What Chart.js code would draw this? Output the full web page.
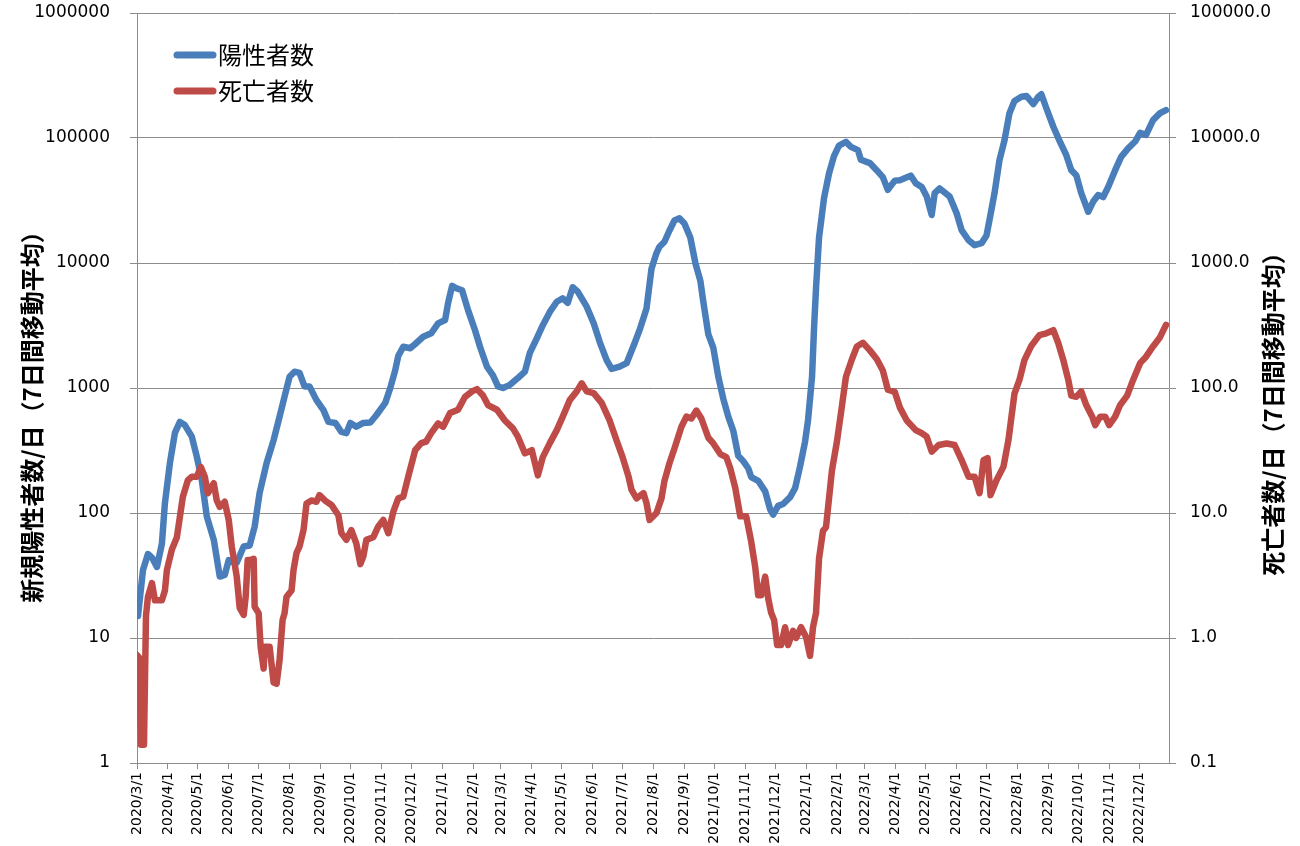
<!DOCTYPE html>
<html lang="ja">
<head>
<meta charset="utf-8">
<title>新規陽性者数・死亡者数（7日間移動平均）</title>
<script src="https://cdn.jsdelivr.net/npm/chart.js@4/dist/chart.umd.min.js"></script>
<style>
  html, body { margin: 0; padding: 0; background: #fff; }
  #wrap { position: relative; width: 1300px; height: 846px; }
</style>
</head>
<body>
<div id="wrap"><canvas id="chart"></canvas></div>
<script>
// ─────────────────────────────────────────────
// データ（日数 = 2020/3/1 からの経過日数）
// ─────────────────────────────────────────────
const tickLabels = [
  '2020/3/1', '2020/4/1', '2020/5/1', '2020/6/1', '2020/7/1', '2020/8/1', '2020/9/1', '2020/10/1',
  '2020/11/1', '2020/12/1', '2021/1/1', '2021/2/1', '2021/3/1', '2021/4/1', '2021/5/1', '2021/6/1',
  '2021/7/1', '2021/8/1', '2021/9/1', '2021/10/1', '2021/11/1', '2021/12/1', '2022/1/1', '2022/2/1',
  '2022/3/1', '2022/4/1', '2022/5/1', '2022/6/1', '2022/7/1', '2022/8/1', '2022/9/1', '2022/10/1',
  '2022/11/1', '2022/12/1'
];

// 陽性者数
const posDays = [
  1, 6, 11, 15, 20, 25, 28, 33, 38, 43, 48, 55, 60, 65, 70, 77, 83, 88, 92, 100,
  107, 113, 118, 123, 130, 137, 143, 148, 153, 158, 163, 168, 173, 180, 187, 192, 199, 205, 210, 214,
  220, 227, 234, 240, 249, 254, 259, 262, 267, 274, 279, 287, 295, 302, 309, 312, 316, 321, 326, 332,
  339, 344, 351, 357, 362, 367, 374, 382, 389, 394, 401, 407, 414, 421, 427, 432, 437, 442, 451, 458,
  464, 471, 476, 484, 491, 499, 504, 511, 516, 521, 524, 529, 534, 539, 544, 549, 555, 560, 565, 568,
  573, 578, 583, 588, 593, 598, 603, 608, 613, 616, 623, 630, 635, 638, 643, 648, 655, 660, 665, 670,
  673, 677, 679, 681, 684, 689, 694, 699, 704, 711, 716, 723, 726, 735, 742, 748, 753, 760, 765, 768,
  776, 781, 787, 792, 797, 800, 805, 815, 822, 827, 834, 840, 847, 852, 855, 860, 865, 870, 875, 880,
  887, 892, 899, 904, 907, 912, 919, 925, 932, 937, 942, 947, 954, 959, 964, 969, 974, 981, 987, 994,
  1001, 1006, 1012, 1019, 1026, 1032
];
const posValues = [
  15, 35, 47, 44, 37, 57, 120, 251, 437, 536, 505, 408, 282, 183, 94, 61, 31, 32, 42, 40,
  54, 55, 78, 145, 251, 383, 590, 855, 1230, 1350, 1320, 1030, 1030, 800, 665, 536, 525, 445, 435, 525,
  490, 525, 530, 605, 760, 1000, 1390, 1800, 2140, 2080, 2250, 2570, 2740, 3290, 3500, 4790, 6560, 6250, 6050, 4200,
  2900, 2140, 1480, 1260, 1030, 1000, 1060, 1200, 1350, 1910, 2500, 3180, 4060, 4900, 5220, 4800, 6400, 5900, 4470, 3290,
  2340, 1670, 1420, 1480, 1580, 2280, 2900, 4330, 9000, 12000, 13500, 14800, 18200, 21900, 22800, 20700, 15900, 10000, 7200, 4880,
  2680, 2090, 1230, 820, 590, 455, 287, 260, 228, 194, 181, 149, 107, 97, 114, 118, 134, 158, 236, 373,
  553, 1230, 3000, 6300, 15900, 33000, 52000, 71600, 87000, 93000, 85000, 80000, 67000, 63000, 55000, 48600, 38500, 45600, 46000, 47000,
  50000, 43500, 40500, 34000, 24200, 36200, 39500, 34000, 25000, 18300, 15200, 13900, 14400, 16600, 22100, 36200, 66600, 95700, 158000, 198000,
  214000, 217000, 187000, 214000, 224000, 173000, 123000, 95700, 72800, 55300, 50400, 36200, 25700, 31000, 35000, 33700, 40500, 55300, 70700, 82600,
  93700, 110000, 106000, 139000, 158000, 167000
];

// 死亡者数
const deathDays = [
  0, 2, 4, 7, 9, 11, 15, 18, 25, 28, 30, 35, 40, 43, 46, 51, 55, 60, 64, 68,
  71, 77, 80, 83, 88, 92, 95, 100, 103, 107, 109, 111, 114, 117, 118, 122, 124, 127, 128, 133,
  137, 140, 143, 146, 148, 150, 155, 157, 160, 163, 167, 170, 175, 180, 183, 189, 195, 202, 205, 210,
  215, 220, 224, 227, 230, 237, 242, 247, 252, 257, 262, 267, 272, 279, 285, 290, 295, 302, 307, 314,
  322, 329, 336, 341, 347, 352, 361, 369, 377, 382, 389, 396, 402, 407, 414, 421, 427, 434, 441, 446,
  451, 458, 466, 474, 481, 487, 493, 496, 501, 508, 511, 514, 521, 526, 529, 534, 539, 546, 551, 556,
  561, 566, 573, 578, 585, 591, 595, 600, 605, 611, 616, 620, 623, 626, 630, 633, 636, 639, 642, 646,
  650, 653, 658, 661, 666, 671, 675, 678, 681, 684, 688, 691, 697, 702, 707, 711, 717, 722, 728, 735,
  742, 748, 753, 760, 765, 772, 781, 787, 792, 797, 804, 812, 820, 827, 834, 840, 845, 849, 853, 856,
  862, 869, 874, 880, 885, 890, 897, 905, 912, 919, 924, 929, 934, 937, 942, 947, 952, 958, 961, 966,
  971, 975, 981, 986, 993, 999, 1006, 1012, 1019, 1026, 1032
];
const deathValues = [
  0.73, 0.7, 0.14, 0.14, 1.5, 2.14, 2.75, 2.0, 2.0, 2.4, 3.5, 5.1, 6.4, 9.3, 13.5, 18.3, 19.5, 19.5, 23.3, 19.5,
  14.4, 17.3, 12.6, 11.2, 12.3, 8.8, 5.4, 3.1, 1.74, 1.53, 2.14, 4.2, 4.2, 4.3, 1.78, 1.58, 0.85, 0.57, 0.85, 0.85,
  0.44, 0.43, 0.67, 1.39, 1.58, 2.14, 2.4, 3.5, 4.8, 5.4, 7.3, 11.9, 12.6, 12.3, 13.9, 12.5, 11.6, 9.6, 6.9, 6.1,
  7.3, 5.7, 3.9, 4.5, 6.1, 6.4, 7.8, 8.8, 6.9, 10.2, 13.1, 13.5, 19.5, 31.8, 36.2, 37.3, 43.5, 52, 49, 63,
  67, 85, 94, 98, 87, 73, 67, 55, 47.5, 40.8, 30, 31.8, 20, 28, 36.2, 46, 59, 80, 94, 109,
  94, 91, 76, 55, 38, 28, 19.5, 15.3, 13.1, 14.4, 12, 8.8, 10, 13.1, 18.1, 25, 32.8, 49, 59, 57,
  66, 57, 40, 36, 29.6, 28, 22.8, 15.9, 9.4, 9.4, 5.9, 3.7, 2.2, 2.2, 3.1, 2.08, 1.59, 1.39, 0.88, 0.88,
  1.22, 0.88, 1.14, 1.0, 1.22, 1.02, 0.72, 1.22, 1.59, 4.3, 7.2, 7.7, 22, 37.4, 72, 123, 170, 215, 230, 200,
  170, 138, 97, 93, 70, 55, 46, 43.5, 40.8, 31, 35, 36, 35, 26.5, 19.5, 19.5, 14.4, 26.5, 27.5, 13.9,
  18.3, 23.5, 38.4, 90, 116, 167, 218, 265, 274, 290, 228, 167, 116, 87, 85, 94, 73, 59, 50.5, 59,
  59, 50.5, 59, 73, 87, 116, 158, 178, 215, 255, 320
];

const posTicks = [1, 10, 100, 1000, 10000, 100000, 1000000];
const deathTicks = [0.1, 1, 10, 100, 1000, 10000, 100000];

const BLUE = '#4A7EBB';
const RED = '#BE4B48';
const GRID = '#8c8c8c';

function dayOf(s) {
  const [y, m, d] = s.split('/').map(Number);
  return (Date.UTC(y, m - 1, d) - Date.UTC(2020, 2, 1)) / 86400000;
}

// 縦軸の幅を固定し、ラベル分の上下余白は最小に
function fixYScale(width) {
  return s => { s.width = width; s.paddingTop = 8; s.paddingBottom = 8; };
}

// 軸タイトルと凡例（グラフ内左上）を描く
const decoPlugin = {
  id: 'deco',
  afterDraw(chart) {
    const ctx = chart.ctx;
    ctx.save();
    ctx.fillStyle = '#000';
    ctx.font = 'bold 24px "Noto Sans CJK JP", sans-serif';
    ctx.textAlign = 'center';
    ctx.textBaseline = 'middle';
    [[32, 411, '新規陽性者数/日（7日間移動平均）'], [1273, 408, '死亡者数/日（7日間移動平均）']].forEach(([x, y, t]) => {
      ctx.save();
      ctx.translate(x, y);
      ctx.rotate(-Math.PI / 2);
      ctx.fillText(t, 0, 0);
      ctx.restore();
    });

    ctx.font = '24px "Noto Sans CJK JP", sans-serif';
    ctx.textAlign = 'left';
    ctx.lineCap = 'round';
    ctx.lineWidth = 7;
    chart.data.datasets.forEach((ds, i) => {
      const y = 55 + i * 36;
      ctx.strokeStyle = ds.borderColor;
      ctx.beginPath();
      ctx.moveTo(177, y);
      ctx.lineTo(213, y);
      ctx.stroke();
      ctx.fillText(ds.label, 218, y);
    });
    ctx.restore();
  }
};

new Chart(document.getElementById('chart'), {
  type: 'line',
  data: {
    datasets: [
      {
        label: '陽性者数', yAxisID: 'y', order: 1,
        data: posDays.map((d, i) => ({ x: d, y: posValues[i] })),
        borderColor: BLUE, borderWidth: 6.5, pointRadius: 0, tension: 0,
        borderJoinStyle: 'round', borderCapStyle: 'round'
      },
      {
        label: '死亡者数', yAxisID: 'y2', order: 0,
        data: deathDays.map((d, i) => ({ x: d, y: deathValues[i] })),
        borderColor: RED, borderWidth: 6.5, pointRadius: 0, tension: 0,
        borderJoinStyle: 'round', borderCapStyle: 'round'
      }
    ]
  },
  options: {
    responsive: true, maintainAspectRatio: false, animation: false,
    layout: { padding: { top: 13, left: 0, right: 0, bottom: 0 } },
    plugins: { legend: { display: false }, tooltip: { enabled: false } },
    scales: {
      x: {
        type: 'linear', min: 0, max: 1035,
        afterBuildTicks: s => { s.ticks = tickLabels.map(t => ({ value: dayOf(t) })); },
        afterFit: s => { s.height = 83; },
        ticks: {
          autoSkip: false, minRotation: 90, maxRotation: 90, padding: 3,
          color: '#000', font: { family: '"DejaVu Sans", sans-serif', size: 14 },
          callback: (v, i) => tickLabels[i]
        },
        grid: { drawOnChartArea: false, drawTicks: true, tickLength: 6, color: GRID },
        border: { display: true, color: GRID }
      },
      y: {
        type: 'logarithmic', position: 'left', min: 1, max: 1000000,
        afterBuildTicks: s => { s.ticks = posTicks.map(v => ({ value: v })); },
        afterFit: fixYScale(137),
        ticks: {
          padding: 20, color: '#000', font: { family: '"DejaVu Sans", sans-serif', size: 17 },
          callback: v => String(v)
        },
        grid: { color: GRID, lineWidth: 1, drawTicks: true, tickLength: 7 },
        border: { display: true, color: GRID }
      },
      y2: {
        type: 'logarithmic', position: 'right', min: 0.1, max: 100000,
        afterBuildTicks: s => { s.ticks = deathTicks.map(v => ({ value: v })); },
        afterFit: fixYScale(131),
        ticks: {
          padding: 14, color: '#000', font: { family: '"DejaVu Sans", sans-serif', size: 17 },
          callback: v => Number(v).toFixed(1)
        },
        grid: { drawOnChartArea: false, drawTicks: true, tickLength: 7, color: GRID },
        border: { display: true, color: GRID }
      }
    }
  },
  plugins: [decoPlugin]
});
</script>
</body>
</html>
